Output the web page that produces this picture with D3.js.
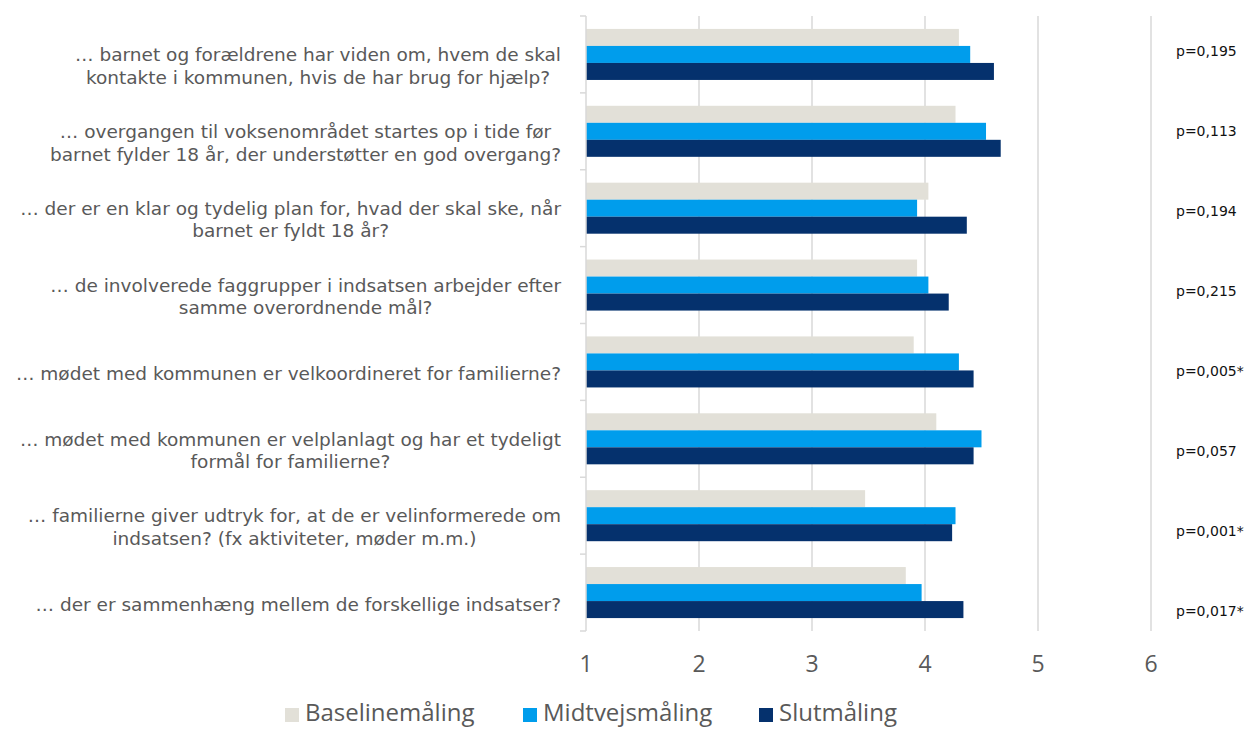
<!DOCTYPE html>
<html>
<head>
<meta charset="utf-8">
<script src="https://cdn.jsdelivr.net/npm/d3@7"></script>
<style>
  body { margin: 0; background: #fff; }
  svg { display: block; }
</style>
</head>
<body>
<svg id="chart" width="1258" height="729"></svg>
<script>
// spørgsmål (vises oppefra og ned)
var questions = [
  ["… barnet og forældrene har viden om, hvem de skal", "kontakte i kommunen, hvis de har brug for hjælp?"],
  ["… overgangen til voksenområdet startes op i tide før", "barnet fylder 18 år, der understøtter en god overgang?"],
  ["… der er en klar og tydelig plan for, hvad der skal ske, når", "barnet er fyldt 18 år?"],
  ["… de involverede faggrupper i indsatsen arbejder efter", "samme overordnende mål?"],
  ["… mødet med kommunen er velkoordineret for familierne?"],
  ["… mødet med kommunen er velplanlagt og har et tydeligt", "formål for familierne?"],
  ["… familierne giver udtryk for, at de er velinformerede om", "indsatsen? (fx aktiviteter, møder m.m.)"],
  ["… der er sammenhæng mellem de forskellige indsatser?"]
];

var seriesNames = ["Baselinemåling", "Midtvejsmåling", "Slutmåling"];
var seriesColors = ["#e2e0d8", "#009dec", "#05316d"];

var baseline = [4.30, 4.27, 4.03, 3.93, 3.90, 4.10, 3.47, 3.83];
var midtvejs = [4.40, 4.54, 3.93, 4.03, 4.30, 4.50, 4.27, 3.97];
var slut     = [4.61, 4.67, 4.37, 4.21, 4.43, 4.43, 4.24, 4.34];

var pValues = ["p=0,195", "p=0,113", "p=0,194", "p=0,215", "p=0,005*", "p=0,057", "p=0,001*", "p=0,017*"];

var xTicks = [1, 2, 3, 4, 5, 6];

var svg = d3.select("#chart");
var plotL = 586, plotR = 1151, plotT = 16, plotB = 631;

var idx = d3.range(questions.length);
var values = [baseline, midtvejs, slut];

var x = d3.scaleLinear().domain([1, 6]).range([plotL, plotR]);
var y0 = d3.scaleBand().domain(idx).range([plotT, plotB]);
var y1 = d3.scaleBand().domain(d3.range(seriesNames.length))
  .range([0, y0.bandwidth()]).paddingInner(0).paddingOuter(0.76);

// gitterlinjer
svg.append("g")
  .selectAll("line")
  .data(xTicks.slice(1))
  .enter().append("line")
    .attr("x1", function(d){ return x(d); })
    .attr("x2", function(d){ return x(d); })
    .attr("y1", plotT)
    .attr("y2", plotB)
    .attr("stroke", "#d9d9d9")
    .attr("stroke-width", 1.5);

// søjler
var groups = svg.append("g")
  .selectAll("g")
  .data(idx)
  .enter().append("g")
    .attr("transform", function(i){ return "translate(0," + y0(i) + ")"; });

groups.selectAll("rect")
  .data(function(i){ return values.map(function(v, s){ return {s: s, v: v[i]}; }); })
  .enter().append("rect")
    .attr("x", x(1))
    .attr("y", function(d){ return y1(d.s); })
    .attr("width", function(d){ return x(d.v) - x(1); })
    .attr("height", y1.bandwidth())
    .attr("fill", function(d){ return seriesColors[d.s]; });

// lodret akse med små streger
var axisG = svg.append("g");
axisG.append("line")
  .attr("x1", plotL).attr("x2", plotL)
  .attr("y1", plotT).attr("y2", plotB)
  .attr("stroke", "#d9d9d9").attr("stroke-width", 1.5);
axisG.selectAll(".tk")
  .data(d3.range(questions.length + 1))
  .enter().append("line")
    .attr("class", "tk")
    .attr("x1", plotL - 6).attr("x2", plotL)
    .attr("y1", function(i){ return plotT + i * y0.step(); })
    .attr("y2", function(i){ return plotT + i * y0.step(); })
    .attr("stroke", "#d9d9d9").attr("stroke-width", 1.5);

// x-akse tal
svg.append("g")
  .selectAll("text")
  .data(xTicks)
  .enter().append("text")
    .attr("x", function(d){ return x(d); })
    .attr("y", 664)
    .attr("dy", "0.35em")
    .attr("text-anchor", "middle")
    .attr("font-family", "'Open Sans', 'Noto Sans', sans-serif")
    .attr("font-size", 23)
    .attr("fill", "#595959")
    .text(function(d){ return d; });

// kategori-tekster, centrerede linjer, højrejusteret blok
var labelRight = 561, lineH = 22.5;
questions.forEach(function(lines, i) {
  var g = svg.append("g");
  var cy = y0(i) + y0.bandwidth() / 2 + 11.5;
  var texts = g.selectAll("text")
    .data(lines)
    .enter().append("text")
      .attr("y", function(d, k){ return cy + (k - (lines.length - 1) / 2) * lineH; })
      .attr("dy", "0.35em")
      .attr("text-anchor", "middle")
      .attr("font-family", "'DejaVu Sans', Verdana, sans-serif")
      .attr("font-size", 18.5)
      .attr("fill", "#595959")
      .text(function(d){ return d; });
  var maxW = d3.max(texts.nodes(), function(n){ return n.getComputedTextLength(); });
  texts.attr("x", labelRight - maxW / 2);
});

// p-værdier
var py = d3.scalePoint().domain(idx).range([51, 611]);
svg.append("g")
  .selectAll("text")
  .data(pValues)
  .enter().append("text")
    .attr("x", 1176)
    .attr("y", function(d, i){ return py(i); })
    .attr("dy", "0.35em")
    .attr("font-family", "'DejaVu Sans', Verdana, sans-serif")
    .attr("font-size", 14)
    .attr("fill", "#111")
    .text(function(d){ return d; });

// signaturforklaring
var legendX = [285, 523, 759];
var leg = svg.append("g")
  .selectAll("g")
  .data(seriesNames)
  .enter().append("g")
    .attr("transform", function(d, i){ return "translate(" + legendX[i] + ",713)"; });
leg.append("rect")
  .attr("x", 0).attr("y", -5)
  .attr("width", 14).attr("height", 14)
  .attr("fill", function(d, i){ return seriesColors[i]; });
leg.append("text")
  .attr("x", 20)
  .attr("dy", "0.35em")
  .attr("font-family", "'Open Sans', 'Noto Sans', sans-serif")
  .attr("font-size", 24)
  .attr("fill", "#595959")
  .text(function(d){ return d; });
</script>
</body>
</html>
